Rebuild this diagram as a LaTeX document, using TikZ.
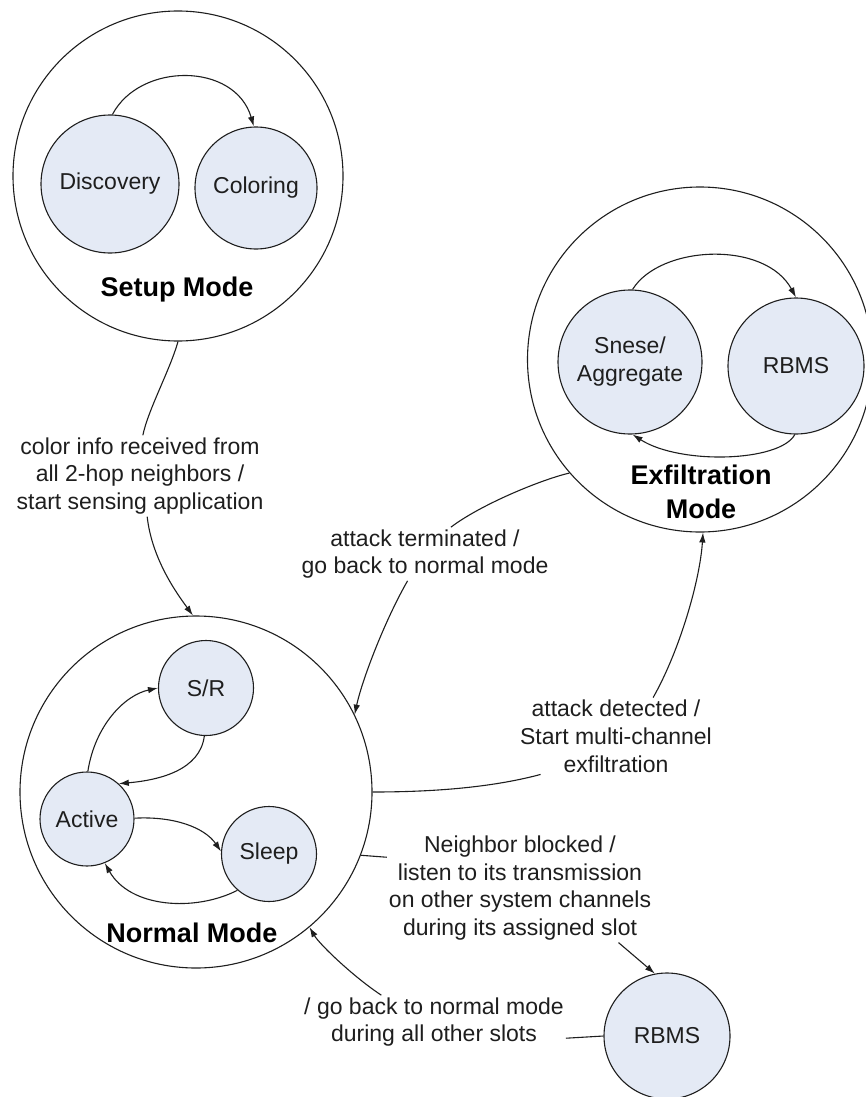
\documentclass[tikz,border=0pt]{standalone}
\usepackage{fontspec}
\setmainfont{Liberation Sans}
\usetikzlibrary{arrows.meta}

\definecolor{statefill}{RGB}{228,234,245}
\definecolor{linec}{RGB}{30,30,30}
\definecolor{txt}{RGB}{30,30,30}

\tikzset{
  mode/.style={circle, draw=linec, line width=1.1pt, minimum size=#1, inner sep=0pt},
  state/.style={circle, draw=linec, fill=statefill, line width=1.1pt, minimum size=#1,
    inner sep=0pt, align=center, text=txt, font=\fontsize{23}{28}\selectfont},
  title/.style={align=center, text=black, font=\fontsize{27}{34}\bfseries\selectfont},
  lbl/.style={align=center, inner sep=2pt, text=txt, font=\fontsize{23}{27.8}\selectfont},
  trans/.style={line width=1.1pt, draw=linec, -{Latex[length=10pt,width=6.5pt]}},
  plainline/.style={line width=1.1pt, draw=linec}
}

\begin{document}
\begin{tikzpicture}[x=1pt,y=-1pt]
\useasboundingbox (0,0) rectangle (866,1097);

% --- Setup Mode ---
\node[mode=330pt] (setup) at (178,176) {};
\node[state=138pt] (disc) at (110,184) {Discovery};
\node[state=122pt] (col) at (256,188) {Coloring};
\node[title] (setuptitle) at (177,290) {Setup Mode};
\draw[trans] (disc.88) .. controls (140,62) and (235,62) .. (col.92);

% --- Exfiltration Mode ---
\node[mode=345pt] (exfil) at (700,359.5) {};
\node[state=144pt] (snese) at (630,362) {Snese/\\Aggregate};
\node[state=136pt] (rbms) at (796,366) {RBMS};
\node[title] (exfiltitle) at (701,492) {Exfiltration\\Mode};
\draw[trans] (snese.88) .. controls (660,245) and (765,240) .. (rbms.90);
\draw[trans] (rbms.-91) .. controls (780,462) and (680,465) .. (snese.-88);

% --- Normal Mode ---
\node[mode=352pt] (normal) at (196,792) {};
\node[state=95pt] (sr) at (206,688) {S/R};
\node[state=94pt] (active) at (87,819) {Active};
\node[state=95pt] (sleep) at (269,854) {Sleep};
\node[title] (normaltitle) at (192,933) {Normal Mode};
\draw[trans] (active.89) .. controls (95,725) and (125,695) .. (sr.180);
\draw[trans] (sr.-92) .. controls (200,770) and (160,780) .. (active.48);
\draw[trans] (active.1) .. controls (175,816) and (205,828) .. (sleep.177);
\draw[trans] (sleep.-131) .. controls (195,912) and (130,908) .. (active.-68);

% --- stand-alone RBMS state ---
\node[state=126pt] (rbms2) at (667,1036) {RBMS};

% --- transition labels ---
\node[lbl] (lab1) at (140,476) {color info received from\\all 2-hop neighbors /\\start sensing application};
\node[lbl] (lab2) at (425,554) {attack terminated /\\go back to normal mode};
\node[lbl] (lab3) at (616,736) {attack detected /\\Start multi-channel\\exfiltration};
\node[lbl] (lab4) at (520,888) {Neighbor blocked /\\listen to its transmission\\on other system channels\\during its assigned slot};
\node[lbl] (lab5) at (434,1022) {/ go back to normal mode\\during all other slots};

% --- transitions between modes ---
\draw[plainline] (setup.-90) .. controls (170,370) and (148,410) .. (lab1.86);
\draw[trans] (lab1.-80) .. controls (152,560) and (178,595) .. (normal.91);

\draw[plainline] (exfil.221) .. controls (540,480) and (480,505) .. (lab2.46);
\draw[trans] (lab2.-123) .. controls (385,620) and (362,680) .. (normal.26);

\draw[plainline] (normal.0) .. controls (430,792) and (490,788) .. (lab3.207);
\draw[trans] (lab3.46) .. controls (680,650) and (700,580) .. (exfil.-89);

\draw[plainline] (normal.-21.6) -- (lab4.167);
\draw[trans] (lab4.-29) -- (rbms2.101);

\draw[plainline] (rbms2.180) -- (lab5.-7);
\draw[trans] (lab5.153) .. controls (355,978) and (320,945) .. (normal.-50.5);
\end{tikzpicture}
\end{document}
